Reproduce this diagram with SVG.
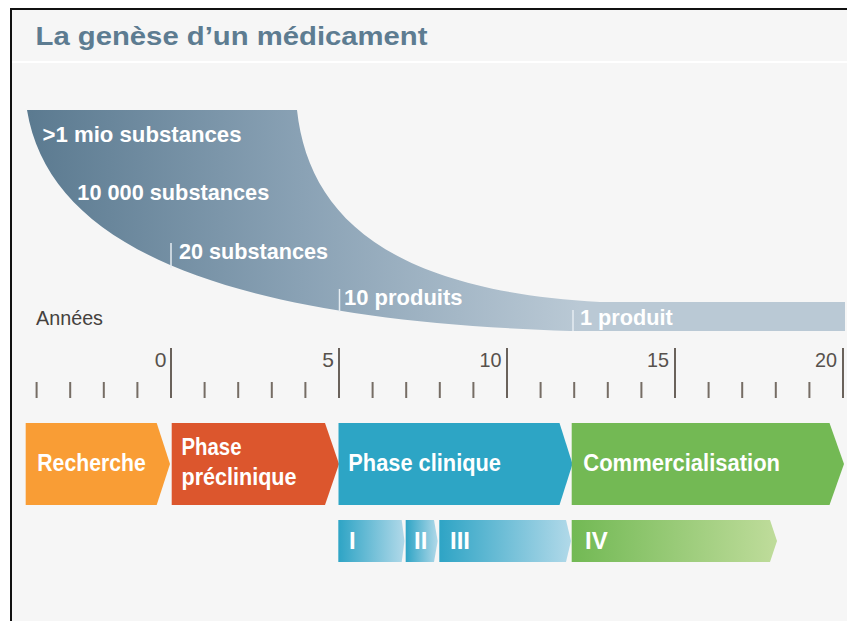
<svg xmlns="http://www.w3.org/2000/svg" width="847" height="621" viewBox="0 0 847 621">
  <style>
    .lbl { font-family: "Liberation Sans", Arial, sans-serif; font-weight: bold; fill: #ffffff; }
    .sub { font-size: 22px; }
    .ph { font-size: 24px; }
    .num { font-family: "Liberation Sans", Arial, sans-serif; font-size: 21px; fill: #57514c; text-anchor: end; }
    .minor { stroke: #766d65; stroke-width: 2; }
    .major { stroke: #6a625b; stroke-width: 2; }
    .bar { stroke: #e6edf2; stroke-width: 1.5; }
  </style>
  <defs>
    <linearGradient id="gFunnel" gradientUnits="userSpaceOnUse" x1="27" y1="0" x2="580" y2="0">
      <stop offset="0" stop-color="#5b7a90"/>
      <stop offset="0.5" stop-color="#8aa2b5"/>
      <stop offset="1" stop-color="#bac9d5"/>
    </linearGradient>
    <linearGradient id="gBlue" x1="0" y1="0" x2="1" y2="0">
      <stop offset="0" stop-color="#2ea4c5"/>
      <stop offset="1" stop-color="#b1d9e9"/>
    </linearGradient>
    <linearGradient id="gGreen" x1="0" y1="0" x2="1" y2="0">
      <stop offset="0" stop-color="#72b954"/>
      <stop offset="1" stop-color="#bfdc9b"/>
    </linearGradient>
  </defs>

  <!-- frame and background -->
  <rect x="0" y="0" width="847" height="621" fill="#ffffff"/>
  <rect x="10" y="8" width="837" height="613" fill="#111111"/>
  <rect x="12" y="10" width="835" height="611" fill="#f6f6f6"/>
  <line x1="12" y1="62" x2="847" y2="62" stroke="#ffffff" stroke-width="2"/>

  <g id="title">
    <text x="35.5" y="44.5" font-family="Liberation Sans, Arial, sans-serif" font-weight="bold" font-size="26.5" fill="#5d7c91" textLength="392" lengthAdjust="spacingAndGlyphs">La genèse d’un médicament</text>
  </g>

  <g id="funnel">
    <path d="M27,110 L297,110 C308,210 380,290 600,302 L845,302 L845,331 L570,331 C230,320 50,250 27,110 Z" fill="url(#gFunnel)"/>
    <line class="bar" x1="171" y1="243" x2="171" y2="268"/>
    <line class="bar" x1="339.5" y1="289" x2="339.5" y2="312"/>
    <line class="bar" x1="573" y1="310" x2="573" y2="331"/>
    <text class="lbl sub" x="42.5" y="141.5" textLength="199" lengthAdjust="spacingAndGlyphs">&gt;1 mio substances</text>
    <text class="lbl sub" x="77.3" y="200" textLength="192" lengthAdjust="spacingAndGlyphs">10 000 substances</text>
    <text class="lbl sub" x="179" y="259" textLength="149" lengthAdjust="spacingAndGlyphs">20 substances</text>
    <text class="lbl sub" x="344" y="305" textLength="118.5" lengthAdjust="spacingAndGlyphs">10 produits</text>
    <text class="lbl sub" x="580" y="325" textLength="92.7" lengthAdjust="spacingAndGlyphs">1 produit</text>
  </g>

  <g id="axis">
    <text x="36" y="324.5" font-family="Liberation Sans, Arial, sans-serif" font-size="20.5" fill="#45413e" textLength="67" lengthAdjust="spacingAndGlyphs">Années</text>
    <line class="minor" x1="36.6" y1="382" x2="36.6" y2="398"/>
    <line class="minor" x1="70.2" y1="382" x2="70.2" y2="398"/>
    <line class="minor" x1="103.8" y1="382" x2="103.8" y2="398"/>
    <line class="minor" x1="137.4" y1="382" x2="137.4" y2="398"/>
    <line class="major" x1="171" y1="348" x2="171" y2="398"/>
    <line class="minor" x1="204.6" y1="382" x2="204.6" y2="398"/>
    <line class="minor" x1="238.2" y1="382" x2="238.2" y2="398"/>
    <line class="minor" x1="271.8" y1="382" x2="271.8" y2="398"/>
    <line class="minor" x1="305.4" y1="382" x2="305.4" y2="398"/>
    <line class="major" x1="339" y1="348" x2="339" y2="398"/>
    <line class="minor" x1="372.6" y1="382" x2="372.6" y2="398"/>
    <line class="minor" x1="406.2" y1="382" x2="406.2" y2="398"/>
    <line class="minor" x1="439.8" y1="382" x2="439.8" y2="398"/>
    <line class="minor" x1="473.4" y1="382" x2="473.4" y2="398"/>
    <line class="major" x1="507" y1="348" x2="507" y2="398"/>
    <line class="minor" x1="540.6" y1="382" x2="540.6" y2="398"/>
    <line class="minor" x1="574.2" y1="382" x2="574.2" y2="398"/>
    <line class="minor" x1="607.8" y1="382" x2="607.8" y2="398"/>
    <line class="minor" x1="641.4" y1="382" x2="641.4" y2="398"/>
    <line class="major" x1="675" y1="348" x2="675" y2="398"/>
    <line class="minor" x1="708.6" y1="382" x2="708.6" y2="398"/>
    <line class="minor" x1="742.2" y1="382" x2="742.2" y2="398"/>
    <line class="minor" x1="775.8" y1="382" x2="775.8" y2="398"/>
    <line class="minor" x1="809.4" y1="382" x2="809.4" y2="398"/>
    <line class="major" x1="843" y1="348" x2="843" y2="398"/>
    <text class="num" x="166.5" y="367">0</text>
    <text class="num" x="334" y="367">5</text>
    <text class="num" x="501.5" y="367" textLength="22" lengthAdjust="spacingAndGlyphs">10</text>
    <text class="num" x="669" y="367" textLength="22" lengthAdjust="spacingAndGlyphs">15</text>
    <text class="num" x="837" y="367" textLength="22" lengthAdjust="spacingAndGlyphs">20</text>
  </g>

  <g id="recherche">
    <polygon points="25.7,423 156.7,423 170,464 156.7,505 25.7,505" fill="#f99d35"/>
    <text class="lbl ph" x="37.3" y="471" textLength="108.4" lengthAdjust="spacingAndGlyphs">Recherche</text>
  </g>
  <g id="preclinique">
    <polygon points="171.7,423 325,423 339,464 325,505 171.7,505" fill="#dc562d"/>
    <text class="lbl ph" x="181.5" y="455" textLength="60" lengthAdjust="spacingAndGlyphs">Phase</text>
    <text class="lbl ph" x="181.5" y="484.5" textLength="115" lengthAdjust="spacingAndGlyphs">préclinique</text>
  </g>
  <g id="clinique">
    <polygon points="338.5,423 559.5,423 572.5,464 559.5,505 338.5,505" fill="#2da5c5"/>
    <text class="lbl ph" x="348.3" y="471" textLength="152.7" lengthAdjust="spacingAndGlyphs">Phase clinique</text>
  </g>
  <g id="commercialisation">
    <polygon points="571.7,423 829.5,423 844,464 829.5,505 571.7,505" fill="#73b954"/>
    <text class="lbl ph" x="583.3" y="471" textLength="196.7" lengthAdjust="spacingAndGlyphs">Commercialisation</text>
  </g>

  <g id="phase-I">
    <polygon points="338.3,520 401.7,520 404.5,541 401.7,562 338.3,562" fill="url(#gBlue)"/>
    <text class="lbl ph" x="349" y="548.5">I</text>
  </g>
  <g id="phase-II">
    <polygon points="405.7,520 434,520 437.7,541 434,562 405.7,562" fill="url(#gBlue)"/>
    <text class="lbl ph" x="414" y="548.5">II</text>
  </g>
  <g id="phase-III">
    <polygon points="439.3,520 566,520 571,541 566,562 439.3,562" fill="url(#gBlue)"/>
    <text class="lbl ph" x="450" y="548.5">III</text>
  </g>
  <g id="phase-IV">
    <polygon points="571.7,520 770,520 777,541 770,562 571.7,562" fill="url(#gGreen)"/>
    <text class="lbl ph" x="585" y="548.5">IV</text>
  </g>

  <g id="connectors"/>
</svg>
